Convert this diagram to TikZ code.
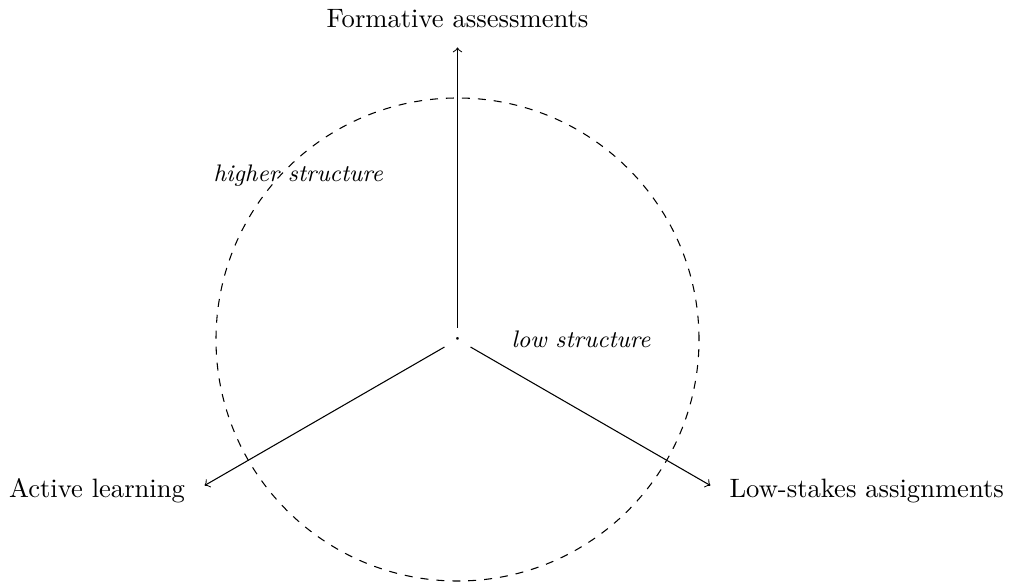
\documentclass[tikz,border=0pt]{standalone}
\usetikzlibrary{arrows}
\tikzset{
  axis/.style={->, line width=0.4pt},
  lbl/.style={inner sep=0pt},
  zone/.style={inner sep=0pt, font=\small\itshape},
  ring/.style={dashed, line width=0.4pt}
}
\begin{document}
\begin{tikzpicture}[x=0.376pt,y=-0.376pt]
\useasboundingbox (0,0) rectangle (1009,583);
\node[inner sep=0pt, minimum width=9.4pt, minimum height=8.6pt] (O) at (457.5,339.5) {$\cdot$};
\draw[ring] (O.center) ++(241.5,0) arc[start angle=0, end angle=-360, radius=241.5];
\coordinate (tu) at (457.5,47.5);
\coordinate (tr) at (710.4,485.5);
\coordinate (tl) at (204.6,485.5);
\draw[axis] (O) -- (tu);
\draw[axis] (O) -- (tr);
\draw[axis] (O) -- (tl);
\node[lbl, anchor=base] (fa) at (457.5,28) {Formative assessments};
\node[lbl, anchor=base east] (al) at (185.5,497) {Active learning};
\node[lbl, anchor=base west] (ls) at (729,497) {Low-stakes assignments};
\node[zone, anchor=base west] (hs) at (213,182) {higher structure};
\node[zone, anchor=base west] (lo) at (511,347) {low structure};
\end{tikzpicture}
\end{document}
